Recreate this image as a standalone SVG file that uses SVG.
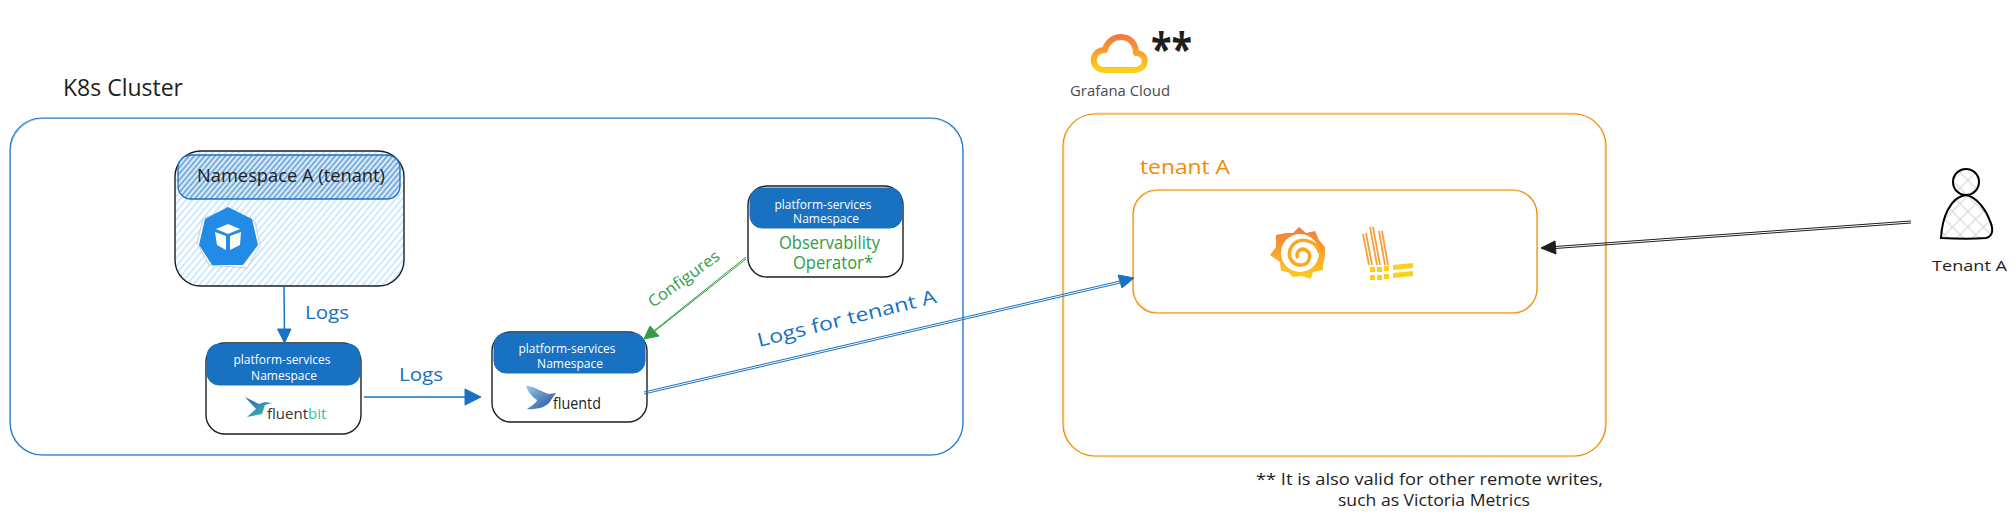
<svg xmlns="http://www.w3.org/2000/svg" width="2016" height="519" viewBox="0 0 2016 519">
<style>
text{font-family:"Open Sans","Noto Sans",sans-serif}
.box{fill:none;stroke:#1e1e1e;stroke-width:1.4}
.blue{fill:none;stroke:#1971c2;stroke-width:1.1}
.orange{fill:none;stroke:#f08c00;stroke-width:1.2}
.orange2{fill:none;stroke:#f08c00;stroke-width:.6;opacity:.5}
.hdr{fill:#1971c2;stroke:#1971c2;stroke-width:1}
.hdrt{fill:#fff;font-size:12px;text-anchor:middle}
.lb{fill:#1971c2;font-size:19px}
.k{fill:#1e1e1e}
.dbl{fill:none;stroke-width:1}
</style>
<defs>
<pattern id="h1" width="5" height="5" patternUnits="userSpaceOnUse" patternTransform="rotate(-50)"><rect width="5" height="5" fill="#fff"/><line x1="0" y1="1" x2="5" y2="1" stroke="#a5d8ff" stroke-width="1.1"/></pattern>
<pattern id="h2" width="4" height="4" patternUnits="userSpaceOnUse" patternTransform="rotate(-50)"><rect width="4" height="4" fill="#dcebf8"/><line x1="0" y1="1" x2="4" y2="1" stroke="#1971c2" stroke-width="1"/></pattern>
<pattern id="x" width="11" height="11" patternUnits="userSpaceOnUse" patternTransform="rotate(45)"><rect width="11" height="11" fill="#fff"/><path d="M0 1H11M1 0V11" stroke="#ced4da" stroke-width="1"/></pattern>
<linearGradient id="g" x1="0" y1="0" x2="0" y2="1"><stop offset="0" stop-color="#f47a3c"/><stop offset="1" stop-color="#fbcf1c"/></linearGradient>
<linearGradient id="fb" x1="0" y1="0" x2="1" y2="1"><stop offset="0" stop-color="#2a5fb0"/><stop offset="1" stop-color="#3fc7b0"/></linearGradient>
<linearGradient id="fd" x1="0" y1="0" x2="1" y2="1"><stop offset="0" stop-color="#8fcbea"/><stop offset="1" stop-color="#274a9c"/></linearGradient>
</defs>

<text x="63" y="96" font-size="23" class="k" textLength="120" lengthAdjust="spacingAndGlyphs">K8s Cluster</text>

<g id="k8s-cluster">
<rect class="blue" x="10" y="118" width="953" height="337" rx="32"/>
<rect class="blue" x="10.500" y="118.500" width="952.500" height="336.500" rx="33" opacity=".4"/>
</g>

<g id="namespace-a">
<rect x="175" y="151" width="229" height="135" rx="26" fill="url(#h1)" stroke="#1e1e1e" stroke-width="1.4"/>
<rect x="178" y="155" width="222" height="44" rx="13" fill="url(#h2)" stroke="#1971c2" stroke-width="1.3"/>
<text x="197" y="182" font-size="18" class="k" textLength="188" lengthAdjust="spacingAndGlyphs">Namespace A (tenant)</text>
<path d="M228 208 255 222 260 246 247 268 209 265 197 243 203 219Z" fill="#fff" stroke="#ccc"/>
<path d="M228 207 252 219 258 245 243 265 212 265 199 245 205 219Z" fill="#228be6"/>
<path d="M228 224 240 229 228 234 216 229ZM215 232 226 236 226 250 217 245ZM241 232 230 236 230 250 240 245Z" fill="#fff"/>
</g>

<g id="fluentbit">
<rect class="box" x="206" y="343" width="155" height="91" rx="19"/>
<rect class="hdr" x="207" y="344" width="153" height="41" rx="12"/>
<text class="hdrt" x="282" y="364">platform-services</text>
<text class="hdrt" x="284" y="380">Namespace</text>
<path d="M245 397 259 404 265 402 272 403 265 405 262 414 247 417 256 409Z" fill="url(#fb)"/>
<text x="267" y="419" font-size="15" fill="#333">fluent<tspan fill="#2cc4a8">bit</tspan></text>
</g>

<g id="fluentd">
<rect class="box" x="492" y="332" width="155" height="90" rx="19"/>
<rect class="hdr" x="494" y="333" width="151" height="40" rx="12"/>
<text class="hdrt" x="567" y="353">platform-services</text>
<text class="hdrt" x="570" y="368">Namespace</text>
<path d="M526 386C535 386 543 393 549 394L556 393 551 400C548 407 536 410 527 409 533 405 537 402 537 400 533 398 528 392 526 386Z" fill="url(#fd)"/>
<text x="553" y="409" font-size="17" fill="#222" textLength="48" lengthAdjust="spacingAndGlyphs">fluentd</text>
</g>

<g id="observability-operator">
<rect class="box" x="748" y="186" width="155" height="91" rx="19"/>
<rect class="hdr" x="750" y="188" width="152" height="40" rx="12"/>
<text class="hdrt" x="823" y="209">platform-services</text>
<text class="hdrt" x="826" y="223">Namespace</text>
<text x="779" y="249" font-size="18" fill="#2f9e44" textLength="101" lengthAdjust="spacingAndGlyphs">Observability</text>
<text x="793" y="269" font-size="18" fill="#2f9e44" textLength="80" lengthAdjust="spacingAndGlyphs">Operator*</text>
</g>

<g id="grafana-cloud">
<path d="M1105 70C1090 70 1090 50 1105 50 1106 44 1112 37 1121 37 1131 37 1136 45 1136 53 1148 53 1148 70 1134 70Z" fill="none" stroke="url(#g)" stroke-width="6" stroke-linejoin="round"/>
<text x="1070" y="96" font-size="15" fill="#4a4a4f" textLength="100" lengthAdjust="spacingAndGlyphs">Grafana Cloud</text>
<text x="1151" y="65" font-size="44" font-weight="700" fill="#1e1e1e" textLength="41" lengthAdjust="spacingAndGlyphs">**</text>
</g>

<g id="grafana-tenant">
<rect class="orange" x="1063" y="114" width="543" height="342" rx="32"/>
<rect class="orange2" x="1064" y="113" width="541" height="344" rx="33"/>
</g>
<text x="1140" y="174" font-size="20" fill="#f08c00" textLength="90" lengthAdjust="spacingAndGlyphs">tenant A</text>
<g id="tenant-a-stack">
<rect class="orange" x="1133" y="190" width="404" height="123" rx="24"/>
<rect class="orange2" x="1133.500" y="190.500" width="404" height="122" rx="26"/>
<path d="M1299 227 1306 233 1315 231 1319 240 1325 247 1325 256 1323 265 1323 270 1313 272 1311 279 1302 276 1293 277 1288 272 1281 271 1280 262 1270 255 1276 247 1276 235 1286 233 1293 233Z" fill="url(#g)"/>
<circle cx="1300" cy="253" r="19" fill="#fff"/>
<path d="M1320 253C1316 240 1300 236 1292 246 1286 254 1291 266 1302 265 1310 264 1312 254 1306 250 1300 247 1295 253 1298 258" fill="none" stroke="#fba81f" stroke-width="3.500"/>
<path d="M1363 234 1369 265M1366 233 1372 265M1370 227 1377 265M1373 227 1380 265M1379 231 1385 265M1382 231 1388 265" fill="none" stroke="#f9a036" stroke-width="1.800"/>
<path d="M1370 267h5v5h-5zM1377 267h5v5h-5zM1384 266h5v5h-5zM1393 265l20-2v5l-20 2zM1370 275h5v5h-5zM1377 275h5v5h-5zM1384 274h5v5h-5zM1393 273l20-2v5l-20 2z" fill="#fbcf1c"/>
</g>

<g id="tenant-user">
<circle cx="1966" cy="182" r="13" fill="url(#x)" stroke="#000" stroke-width="2"/>
<path d="M1966 195C1950 197 1942 218 1941 238 1958 239 1975 239 1986 238 1994 236 1993 228 1990 221 1986 210 1977 197 1966 195Z" fill="url(#x)" stroke="#000" stroke-width="2"/>
<text x="1932" y="271" font-size="15" class="k" textLength="75" lengthAdjust="spacingAndGlyphs">Tenant A</text>
</g>

<text x="1256" y="485" font-size="17" class="k" textLength="347" lengthAdjust="spacingAndGlyphs">** It is also valid for other remote writes,</text>
<text x="1338" y="506" font-size="17" class="k" textLength="192" lengthAdjust="spacingAndGlyphs">such as Victoria Metrics</text>

<g id="connectors">
<g stroke="#1971c2" fill="#1971c2">
<path d="M284 286 284.500 335" fill="none" stroke-width="1.500"/>
<path d="M284.500 343 277.500 329H291Z"/>
<path d="M364 397 468 397" fill="none" stroke-width="1.500"/>
<path d="M481 397 465 389V405Z"/>
<path class="dbl" d="M644 392 1120 281M644 394 1120 283"/>
<path d="M1134 278 1118 275 1122 288Z"/>
</g>
<g stroke="#2f9e44" fill="#2f9e44">
<path class="dbl" d="M746 257 655 330M746 259 655 331"/>
<path d="M644 339 650 326 659 336Z"/>
</g>
<g stroke="#1e1e1e" fill="#1e1e1e">
<path class="dbl" d="M1911 221 1555 246.500M1911 223 1555 248.500"/>
<path d="M1541 248 1555 241 1556 254Z"/>
</g>
</g>

<g fill="#1971c2">
<text x="305" y="319" class="lb" textLength="44" lengthAdjust="spacingAndGlyphs">Logs</text>
<text x="399" y="381" class="lb" textLength="44" lengthAdjust="spacingAndGlyphs">Logs</text>
<text x="0" y="0" class="lb" transform="translate(759 347) rotate(-14)" textLength="184" lengthAdjust="spacingAndGlyphs">Logs for tenant A</text>
</g>
<text x="0" y="0" font-size="16" fill="#2f9e44" transform="translate(653 308) rotate(-36)" textLength="84" lengthAdjust="spacingAndGlyphs">Configures</text>
</svg>
